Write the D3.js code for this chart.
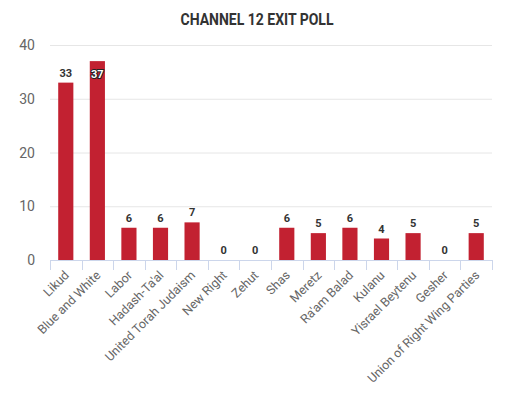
<!DOCTYPE html>
<html>
<head>
<meta charset="utf-8">
<script src="https://cdn.jsdelivr.net/npm/d3@7"></script>
<style>
  body { margin: 0; background: #fff; }
  svg { display: block; font-family: Roboto, "Noto Sans", sans-serif; }
</style>
</head>
<body>
<svg width="507" height="399"></svg>
<script>
const width = 507, height = 399;
const svg = d3.select("svg");

// data
const parties = ["Likud", "Blue and White", "Labor", "Hadash-Ta'al", "United Torah Judaism",
  "New Right", "Zehut", "Shas", "Meretz", "Ra'am Balad", "Kulanu", "Yisrael Beytenu",
  "Gesher", "Union of Right Wing Parties"];
const seats = [33, 37, 6, 6, 7, 0, 0, 6, 5, 6, 4, 5, 0, 5];
const yTicks = [0, 10, 20, 30, 40];

const margin = { top: 45, right: 15, bottom: 139, left: 50 };
const innerW = width - margin.left - margin.right;
const innerH = height - margin.top - margin.bottom;

const g = svg.append("g")
  .attr("transform", `translate(${margin.left},${margin.top})`);

// title
svg.append("text")
  .attr("x", 257)
  .attr("y", 25)
  .attr("text-anchor", "middle")
  .attr("font-size", "16px")
  .attr("font-weight", "bold")
  .attr("fill", "#333")
  .attr("textLength", 153)
  .attr("lengthAdjust", "spacingAndGlyphs")
  .text("CHANNEL 12 EXIT POLL");

const x = d3.scaleBand()
  .domain(parties)
  .range([0, innerW])
  .paddingInner(0.52)
  .paddingOuter(0.26);

const y = d3.scaleLinear()
  .domain([0, 40])
  .range([innerH, 0]);

// grid
g.append("g")
  .selectAll("line")
  .data(yTicks.filter(d => d > 0))
  .enter()
  .append("line")
  .attr("x1", 0)
  .attr("x2", innerW)
  .attr("y1", d => y(d) + 0.5)
  .attr("y2", d => y(d) + 0.5)
  .attr("stroke", "#e6e6e6");

// y labels
g.append("g")
  .selectAll("text")
  .data(yTicks)
  .enter()
  .append("text")
  .attr("x", -15)
  .attr("y", d => y(d) + 5)
  .attr("text-anchor", "end")
  .attr("font-size", "14px")
  .attr("fill", "#666")
  .text(d => d);

// bars
g.selectAll("rect")
  .data(seats)
  .enter()
  .append("rect")
  .attr("x", (d, i) => x(parties[i]))
  .attr("y", d => y(d))
  .attr("width", x.bandwidth())
  .attr("height", d => innerH - y(d))
  .attr("fill", "#c22131");

// x axis
const xAxis = g.append("g").attr("transform", `translate(0,${innerH})`);
xAxis.append("line")
  .attr("x1", 0).attr("x2", innerW)
  .attr("y1", 0.5).attr("y2", 0.5)
  .attr("stroke", "#ccd6eb");
xAxis.selectAll(".tick")
  .data(d3.range(parties.length + 1))
  .enter()
  .append("line")
  .attr("class", "tick")
  .attr("x1", i => Math.round(i * innerW / parties.length) + 0.5)
  .attr("x2", i => Math.round(i * innerW / parties.length) + 0.5)
  .attr("y1", 0)
  .attr("y2", 10)
  .attr("stroke", "#ccd6eb");

xAxis.selectAll(".xlab")
  .data(parties)
  .enter()
  .append("text")
  .attr("class", "xlab")
  .attr("text-anchor", "end")
  .attr("font-size", "12.5px")
  .attr("fill", "#666")
  .attr("transform", d => `translate(${x(d) + x.bandwidth() / 2 + 4},${16}) rotate(-45)`)
  .text(d => d);

// data labels
g.selectAll(".val")
  .data(seats)
  .enter()
  .append("text")
  .attr("class", "val")
  .attr("x", (d, i) => x(parties[i]) + x.bandwidth() / 2)
  .attr("y", d => d > 35 ? y(d) + 17 : y(d) - 6)
  .attr("text-anchor", "middle")
  .attr("font-size", "11px")
  .attr("font-weight", "bold")
  .attr("fill", d => d > 35 ? "#fff" : "#333")
  .attr("stroke", d => d > 35 ? "#222" : "none")
  .attr("stroke-width", 2)
  .attr("paint-order", "stroke")
  .text(d => d);
</script>
</body>
</html>
